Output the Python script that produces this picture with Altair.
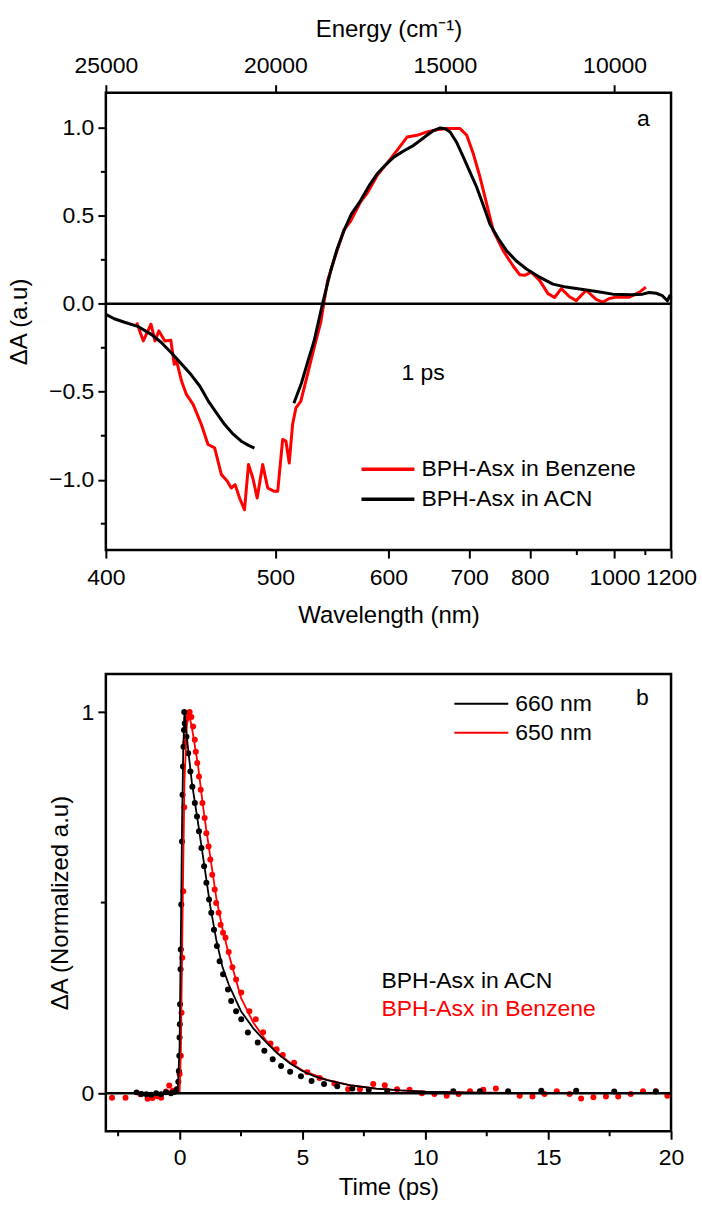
import altair as alt
import pandas as pd

FONT = "Liberation Sans"

# ---------------- Panel a: transient spectra at 1 ps ----------------
acn1_wl = [400.0, 404.0, 409.0, 416.0, 422.8, 428.0, 433.6, 439.0, 444.9, 450.0,
           454.8, 460.0, 465.1, 470.0, 476.0, 481.0, 485.0]
acn1_val = [-0.06, -0.085, -0.105, -0.13, -0.175, -0.22, -0.28, -0.34, -0.405, -0.47,
            -0.55, -0.62, -0.685, -0.735, -0.781, -0.805, -0.82]

acn2_wl = [514.0, 520.0, 525.0, 530.3, 537.3, 544.4, 550.0, 556.2, 563.0, 571.8,
           580.0, 588.3, 597.0, 605.7, 617.0, 628.0, 636.0, 643.9, 652.0, 660.5,
           667.0, 673.5, 682.0, 691.7, 701.0, 711.0, 721.0, 731.3, 745.0, 758.5,
           775.0, 793.8, 820.0, 846.3, 875.0, 906.4, 950.0, 994.4, 1056.0, 1090.0,
           1113.7, 1140.0, 1164.3, 1184.6, 1194.6, 1200.0]
acn2_val = [-0.565, -0.45, -0.33, -0.21, 0.0, 0.188, 0.31, 0.416, 0.51, 0.587,
            0.67, 0.739, 0.79, 0.834, 0.87, 0.901, 0.93, 0.958, 0.985, 1.0,
            0.995, 0.977, 0.92, 0.834, 0.75, 0.663, 0.56, 0.454, 0.37, 0.302,
            0.245, 0.198, 0.15, 0.112, 0.095, 0.084, 0.07, 0.055, 0.051, 0.055,
            0.064, 0.06, 0.046, 0.017, 0.046, 0.03]

benz_wl = [415.1, 418.5, 422.5, 424.6, 426.7, 429.9, 433.2, 435.1, 436.4, 439.2,
           442.0, 445.9, 450.8, 454.8, 458.9, 463.1, 466.9, 469.4, 472.0, 474.9,
           478.2, 480.9, 483.9, 486.9, 490.8, 494.4, 499.2, 501.7, 505.4, 507.9,
           510.4, 513.0, 515.6, 519.5, 524.9, 530.3, 535.8, 541.6, 547.3, 556.2,
           562.4, 571.8, 578.3, 588.3, 598.6, 609.3, 620.4, 631.9, 643.9, 656.3,
           669.2, 687.1, 696.5, 706.0, 716.0, 726.2, 736.5, 752.8, 769.8, 781.7,
           790.7, 803.0, 819.0, 836.0, 849.8, 864.3, 882.8, 898.5, 922.8, 948.5,
           966.4, 985.0, 1004.4, 1045.4, 1078.5, 1101.8]
benz_val = [-0.106, -0.211, -0.116, -0.211, -0.154, -0.211, -0.207, -0.344, -0.325, -0.439,
            -0.515, -0.572, -0.686, -0.80, -0.819, -0.971, -1.009, -1.047, -1.028, -1.104,
            -1.171, -0.914, -0.99, -1.104, -0.914, -1.047, -1.066, -1.066, -0.771, -0.781,
            -0.905, -0.686, -0.591, -0.553, -0.40, -0.249, -0.106, 0.13, 0.25, 0.42,
            0.47, 0.58, 0.63, 0.73, 0.80, 0.872, 0.948, 0.958, 0.977, 0.99,
            0.996, 0.996, 0.958, 0.853, 0.72, 0.568, 0.416, 0.302, 0.215, 0.165,
            0.162, 0.18, 0.133, 0.058, 0.036, 0.086, 0.04, 0.018, 0.077, 0.025,
            0.01, 0.03, 0.038, 0.038, 0.065, 0.095]

wl_major = [400, 500, 600, 700, 800, 1000, 1200]
wl_minor = [900, 1100]
energy_major = [25000, 20000, 15000, 10000]
ya_major = [1.0, 0.5, 0.0, -0.5, -1.0]
ya_minor = [0.75, 0.25, -0.25, -0.75, -1.25]

# ---------------- Panel b: kinetics ----------------
acn_t = [-1.75, -1.55, -1.35, -1.15, -0.95, -0.75, -0.55, -0.35, -0.2, -0.1,
         -0.05, -0.03, -0.01, 0.0, 0.01, 0.02, 0.04, 0.05, 0.07, 0.1,
         0.12, 0.14, 0.16, 0.18, 0.19, 0.21, 0.28, 0.35, 0.44, 0.52,
         0.62, 0.71, 0.79, 0.89, 1.0, 1.09, 1.2, 1.29, 1.40, 1.52,
         1.63, 1.77, 1.97, 2.10, 2.30, 2.51, 2.78, 3.18, 3.45, 3.79,
         4.13, 4.50, 4.94, 5.37, 5.88, 6.42, 7.03, 7.70, 8.45, 11.14,
         12.22, 13.37, 14.72, 16.14, 17.69, 19.38]
acn_v = [0.002, -0.002, -0.003, -0.004, 0.0, -0.003, 0.002, 0.0, 0.003, 0.01,
         0.03, 0.058, 0.098, 0.146, 0.181, 0.233, 0.325, 0.377, 0.495, 0.66,
         0.783, 0.857, 0.909, 0.953, 1.0, 0.97, 0.935, 0.892, 0.844, 0.804,
         0.761, 0.726, 0.687, 0.643, 0.595, 0.552, 0.508, 0.473, 0.429, 0.386,
         0.346, 0.312, 0.272, 0.242, 0.215, 0.194, 0.159, 0.133, 0.111, 0.089,
         0.071, 0.056, 0.044, 0.032, 0.024, 0.018, 0.012, 0.009, 0.006, 0.005,
         0.005, 0.005, 0.006, 0.006, 0.004, 0.004]

benz_t = [-2.75, -2.2, -1.6, -1.3, -1.1, -0.9, -0.75, -0.55, -0.42, -0.28,
          -0.12, 0.0, 0.05, 0.08, 0.11, 0.15, 0.19, 0.23, 0.28, 0.35,
          0.41, 0.48, 0.55, 0.62, 0.66, 0.72, 0.79, 0.86, 0.93, 1.02,
          1.09, 1.18, 1.25, 1.33, 1.43, 1.49, 1.59, 1.67, 1.77, 1.87,
          2.0, 2.15, 2.30, 2.51, 2.84, 3.1, 3.4, 3.7, 3.95, 4.2,
          4.66, 5.2, 5.7, 6.3, 6.86, 7.34, 7.88, 8.35, 8.85, 9.36,
          9.86, 10.37, 10.87, 11.35, 11.82, 12.36, 12.87, 13.84, 14.36, 14.85,
          15.35, 15.87, 16.34, 16.84, 17.35, 17.85, 18.36, 18.86, 19.38, 19.85]
benz_v = [-0.012, -0.012, -0.003, -0.015, -0.013, -0.008, -0.012, 0.004, 0.02, 0.006,
          0.01, 0.05, 0.098, 0.211, 0.355, 0.53, 0.75, 0.92, 0.983, 0.996,
          1.0, 0.987, 0.962, 0.927, 0.896, 0.866, 0.831, 0.796, 0.761, 0.722,
          0.682, 0.647, 0.613, 0.573, 0.534, 0.499, 0.473, 0.442, 0.421, 0.408,
          0.37, 0.33, 0.298, 0.264, 0.215, 0.194, 0.160, 0.13, 0.115, 0.10,
          0.080, 0.055, 0.04, 0.025, 0.010, 0.010, 0.024, 0.021, 0.010, 0.009,
          0.0, -0.002, -0.007, -0.002, 0.005, 0.009, 0.012, -0.007, -0.009, -0.002,
          0.005, -0.002, -0.014, -0.011, -0.009, -0.009, -0.002, 0.005, 0.005, -0.007]

acn_fit_t = [-3.0, -0.08, 0.0, 0.05, 0.1, 0.15, 0.2, 0.3, 0.5, 0.75, 1.0, 1.25, 1.5,
             1.75, 2.0, 2.5, 3.0, 3.5, 4.0, 4.5, 5.0, 5.5, 6.0, 7.0, 8.0, 9.0, 10.0,
             12.0, 15.0, 20.0]
acn_fit_v = [0.0, 0.0, 0.12, 0.4, 0.7, 0.9, 1.0, 0.93, 0.815, 0.71, 0.60, 0.49, 0.40,
             0.33, 0.285, 0.215, 0.17, 0.135, 0.103, 0.078, 0.058, 0.044, 0.034, 0.02,
             0.012, 0.007, 0.004, 0.001, 0.0, 0.0]
benz_fit_t = [-3.0, 0.0, 0.05, 0.1, 0.15, 0.2, 0.3, 0.4, 0.5, 0.75, 1.0, 1.25, 1.5,
              1.75, 2.0, 2.5, 3.0, 3.5, 4.0, 4.5, 5.0, 6.0, 7.0, 8.0, 9.0, 10.0,
              12.0, 15.0, 20.0]
benz_fit_v = [0.0, 0.0, 0.1, 0.35, 0.6, 0.82, 0.97, 0.99, 0.96, 0.86, 0.73, 0.62, 0.51,
              0.43, 0.365, 0.25, 0.185, 0.14, 0.105, 0.08, 0.06, 0.035, 0.02, 0.012,
              0.007, 0.004, 0.001, 0.0, 0.0]

t_major = [0, 5, 10, 15, 20]
t_minor = [-2.5, 2.5, 7.5, 12.5, 17.5]
yb_major = [0, 1]
yb_minor = [0.5]

W = 566
H = 458
RED = "#ff0000"
BLACK = "#000000"

# ---------------- build panel a ----------------
xs_a = alt.Scale(domain=[1e7 / 1200, 25000], reverse=True, nice=False, zero=False)
ys_a = alt.Scale(domain=[-1.4, 1.2], nice=False, zero=False)

df_benz = pd.DataFrame({"wl": benz_wl, "val": benz_val})
df_acn = pd.concat([
    pd.DataFrame({"wl": acn1_wl, "val": acn1_val, "seg": 1}),
    pd.DataFrame({"wl": acn2_wl, "val": acn2_val, "seg": 2}),
])

top_axis = alt.Chart(pd.DataFrame({"E": energy_major})).mark_point(opacity=0).encode(
    x=alt.X("E:Q", scale=xs_a,
            axis=alt.Axis(orient="top", values=energy_major, format="d",
                          title="Energy (cm⁻¹)", labelPadding=7, titlePadding=13,
                          labelOverlap=False, labelFlush=False)),
)

benz_line = alt.Chart(df_benz).transform_calculate(E="1e7/datum.wl").mark_line(
    color=RED, strokeWidth=3, strokeJoin="round").encode(
    x=alt.X("E:Q", scale=xs_a,
            axis=alt.Axis(orient="bottom", values=[1e7 / w for w in wl_major],
                          labelExpr="format(1e7/datum.value, '.0f')",
                          title="Wavelength (nm)", labelPadding=8, titlePadding=15,
                          labelOverlap=False, labelFlush=False)),
    y=alt.Y("val:Q", scale=ys_a,
            axis=alt.Axis(orient="left", values=ya_major, format=".1f", title="ΔA (a.u)",
                          labelPadding=4, titlePadding=17, labelOverlap=False,
                          labelFlush=False)),
    order="wl:Q",
)

acn_line = alt.Chart(df_acn).transform_calculate(E="1e7/datum.wl").mark_line(
    color=BLACK, strokeWidth=3, strokeJoin="round").encode(
    x=alt.X("E:Q", scale=xs_a, axis=None),
    y=alt.Y("val:Q", scale=ys_a, axis=None),
    detail="seg:N",
    order="wl:Q",
)

zero_a = alt.Chart(pd.DataFrame({"v": [0.0]})).mark_rule(color=BLACK, strokeWidth=2.5).encode(
    y=alt.Y("v:Q", scale=ys_a, axis=None))

xminor_a = alt.Chart(pd.DataFrame({"wl": wl_minor})).transform_calculate(E="1e7/datum.wl").mark_rule(
    color=BLACK, strokeWidth=2).encode(
    x=alt.X("E:Q", scale=xs_a, axis=None), y=alt.value(H), y2=alt.value(H + 5))

yminor_a = alt.Chart(pd.DataFrame({"v": ya_minor})).mark_rule(color=BLACK, strokeWidth=2).encode(
    y=alt.Y("v:Q", scale=ys_a, axis=None), x=alt.value(0), x2=alt.value(-5))


def txt(s, x, y, color=BLACK, size=23):
    return alt.Chart(pd.DataFrame({"t": [s]})).mark_text(
        align="left", baseline="middle", font=FONT, fontSize=size, color=color).encode(
        text="t:N", x=alt.value(x), y=alt.value(y))


def leg_line(x1, x2, y, color, width):
    return alt.Chart(pd.DataFrame({"k": [0]})).mark_rule(color=color, strokeWidth=width).encode(
        x=alt.value(x1), x2=alt.value(x2), y=alt.value(y))


panel_a = alt.layer(
    top_axis, benz_line, acn_line, zero_a, xminor_a, yminor_a,
    leg_line(256, 309, 377, RED, 3.5), leg_line(256, 309, 407, BLACK, 3.5),
    txt("BPH-Asx in Benzene", 316, 377), txt("BPH-Asx in ACN", 316, 407),
    txt("1 ps", 296, 281), txt("a", 532, 26),
).resolve_axis(x="independent", y="independent").properties(width=W, height=H)

# ---------------- build panel b ----------------
xs_b = alt.Scale(domain=[-3, 20], nice=False, zero=False)
ys_b = alt.Scale(domain=[-0.1, 1.1], nice=False, zero=False)

benz_dots = alt.Chart(pd.DataFrame({"t": benz_t, "v": benz_v})).mark_circle(
    color=RED, size=36, opacity=1).encode(
    x=alt.X("t:Q", scale=xs_b,
            axis=alt.Axis(orient="bottom", values=t_major, format="d", title="Time (ps)",
                          labelPadding=7, titlePadding=6, labelOverlap=False,
                          labelFlush=False)),
    y=alt.Y("v:Q", scale=ys_b,
            axis=alt.Axis(orient="left", values=yb_major, format="d",
                          title="ΔA (Normalized a.u)",
                          labelPadding=4, titlePadding=9, labelOverlap=False,
                          labelFlush=False)),
)
acn_dots = alt.Chart(pd.DataFrame({"t": acn_t, "v": acn_v})).mark_circle(
    color=BLACK, size=36, opacity=1).encode(
    x=alt.X("t:Q", scale=xs_b, axis=None), y=alt.Y("v:Q", scale=ys_b, axis=None))
benz_fit = alt.Chart(pd.DataFrame({"t": benz_fit_t, "v": benz_fit_v})).mark_line(
    color=RED, strokeWidth=1.8).encode(
    x=alt.X("t:Q", scale=xs_b, axis=None), y=alt.Y("v:Q", scale=ys_b, axis=None))
acn_fit = alt.Chart(pd.DataFrame({"t": acn_fit_t, "v": acn_fit_v})).mark_line(
    color=BLACK, strokeWidth=1.8).encode(
    x=alt.X("t:Q", scale=xs_b, axis=None), y=alt.Y("v:Q", scale=ys_b, axis=None))
zero_b = alt.Chart(pd.DataFrame({"v": [0.0]})).mark_rule(color=BLACK, strokeWidth=2.5).encode(
    y=alt.Y("v:Q", scale=ys_b, axis=None))
xminor_b = alt.Chart(pd.DataFrame({"t": t_minor})).mark_rule(color=BLACK, strokeWidth=2).encode(
    x=alt.X("t:Q", scale=xs_b, axis=None), y=alt.value(H), y2=alt.value(H + 5))
yminor_b = alt.Chart(pd.DataFrame({"v": yb_minor})).mark_rule(color=BLACK, strokeWidth=2).encode(
    y=alt.Y("v:Q", scale=ys_b, axis=None), x=alt.value(0), x2=alt.value(-5))

panel_b = alt.layer(
    benz_dots, acn_dots, benz_fit, acn_fit, zero_b, xminor_b, yminor_b,
    leg_line(349, 403, 30, BLACK, 2), leg_line(349, 403, 59, RED, 2),
    txt("660 nm", 410, 30), txt("650 nm", 410, 59),
    txt("BPH-Asx in ACN", 276, 308), txt("BPH-Asx in Benzene", 276, 336, color=RED),
    txt("b", 531, 24),
).resolve_axis(x="independent", y="independent").properties(width=W, height=H)

chart = alt.vconcat(panel_a, panel_b, spacing=124, bounds="flush").properties(
    padding={"left": 6, "top": 15, "right": 4, "bottom": 5}
).configure_view(stroke=BLACK, strokeWidth=2.5).configure_axis(
    labelFont=FONT, labelFontSize=23, labelColor=BLACK,
    titleFont=FONT, titleFontSize=24, titleFontWeight="normal", titleColor=BLACK,
    tickColor=BLACK, tickWidth=2, tickSize=8, domain=False, grid=False,
)

chart.save("out.html", embed_options={"renderer": "svg", "actions": False})
